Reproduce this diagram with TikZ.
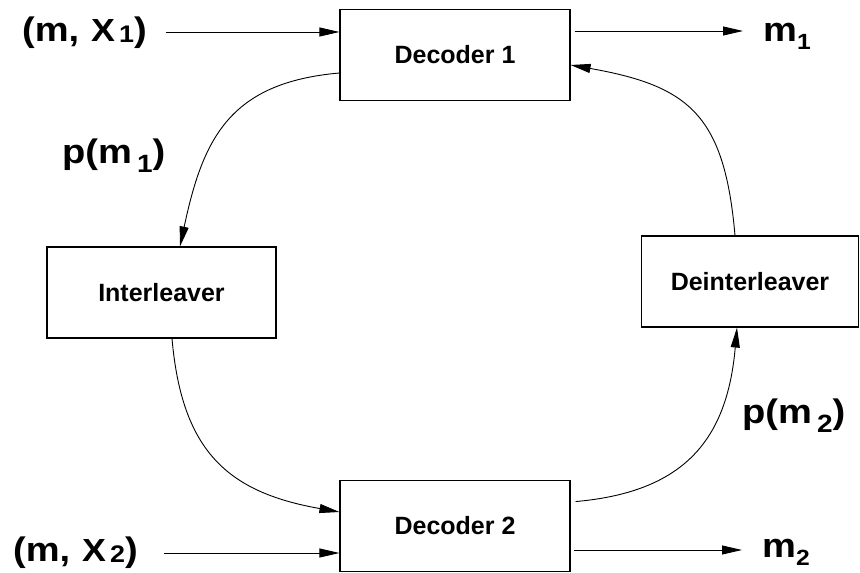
\documentclass[tikz,border=0pt]{standalone}
\usepackage{fontspec}
\setmainfont{Liberation Sans}
\newfontfamily\sigfont[FakeStretch=1.12]{Liberation Sans}
\usetikzlibrary{arrows.meta}

\newcommand{\subidx}[3]{\raisebox{-#1}{\fontsize{#2}{#2}\selectfont\bfseries #3}}

\tikzset{
  block/.style={rectangle, draw, line width=1.1pt, minimum width=230pt, minimum height=91pt,
    inner sep=0pt, font=\fontsize{25}{28}\selectfont\bfseries},
  arrow/.style={-{Triangle[length=20pt, width=9pt]}, line width=0.9pt},
}

\begin{document}
\begin{tikzpicture}[x=1pt, y=1pt]
  \tikzset{
    signal/.style={inner sep=0pt, anchor=base west, font=\sigfont\fontsize{34}{38}\selectfont\bfseries},
  }
  \useasboundingbox (0,0) rectangle (860,573);

  % Decoder und (De-)Interleaver
  \node[block] (dec1) at (455, 518) {Decoder 1};
  \node[block] (dec2) at (455, 47) {Decoder 2};
  \node[block, minimum width=229pt] (inter) at (161.5, 280.5) {Interleaver};
  \node[block, minimum width=217pt] (deint) at (750, 291.5) {Deinterleaver};

  % Ein- und Ausgaben
  \node[signal] (in1)  at (22, 531)
    {(m,\hspace{0.35em}\subidx{0pt}{32}{X}\hspace{4pt}\subidx{1pt}{24}{1})};
  \node[signal] (in2)  at (13, 11)
    {(m,\hspace{0.35em}\subidx{0pt}{32}{X}\hspace{4pt}\subidx{1pt}{24}{2})};
  \node[signal] (out1) at (763, 531) {m\subidx{8pt}{22}{1}};
  \node[signal] (out2) at (762, 15)  {m\subidx{8pt}{22}{2}};
  \node[signal] (pm1)  at (62, 409)  {p(m\hspace{5pt}\subidx{9pt}{25}{1})};
  \node[signal] (pm2)  at (742, 149) {p(m\hspace{5pt}\subidx{9pt}{25}{2})};

  \coordinate (d1in)  at ([yshift=23pt]dec1.west);
  \coordinate (d1out) at ([yshift=24pt]dec1.east);
  \coordinate (d2in)  at ([yshift=-27pt]dec2.west);
  \coordinate (d2out) at ([yshift=-24pt]dec2.east);

  % Eingaenge
  \draw[arrow, shorten <=19pt] (in1.east |- d1in) -- (d1in);
  \draw[arrow, shorten <=26pt] (in2.east |- d2in) -- (d2in);

  % Ausgaenge
  \draw[arrow, shorten <=4pt, shorten >=20pt] (d1out) -- (out1.west |- d1out);
  \draw[arrow, shorten <=3pt, shorten >=20pt] (d2out) -- (out2.west |- d2out);

  % Schleife ueber die Interleaver
  \draw[arrow] ([yshift=-18pt]dec1.west) to[out=185, in=78, looseness=1.2]
    ([xshift=18.5pt]inter.north);
  \draw[arrow] ([xshift=10.5pt]inter.south) to[out=275, in=170, looseness=1.2]
    ([yshift=14pt]dec2.west);
  \draw[arrow, shorten <=5pt] ([yshift=24pt]dec2.east) to[out=5, in=265, looseness=1.2]
    ([xshift=-13pt]deint.south);
  \draw[arrow] ([xshift=-15pt]deint.north) to[out=95, in=350, looseness=1.3]
    ([yshift=-10pt]dec1.east);

\end{tikzpicture}
\end{document}
